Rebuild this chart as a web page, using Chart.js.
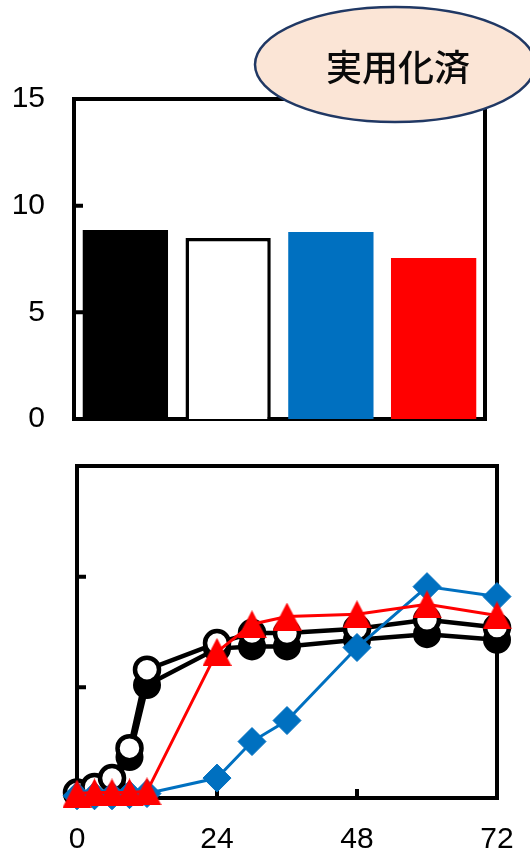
<!DOCTYPE html>
<html><head><meta charset="utf-8">
<script src="https://cdn.jsdelivr.net/npm/chart.js@4"></script>
<style>
html,body{margin:0;padding:0;background:#fff;overflow:hidden;width:530px;height:848px}
#c1{position:absolute;left:0;top:0}
#c2{position:absolute;left:0;top:440px}
</style></head><body>
<canvas id="c1" width="530" height="466"></canvas>
<canvas id="c2" width="538" height="408"></canvas>
<script>
// ---- data ----
const barCategories = ['S1', 'S2', 'S3', 'S4'];
const barValues = [8.86, 8.48, 8.77, 7.55];
const barYTicks = [0, 5, 10, 15];

const timeHours = [0, 3, 6, 9, 12, 24, 30, 36, 48, 60, 72];
const filledCircle = [0.04, 0.05, 0.10, 0.37, 1.02, 1.35, 1.37, 1.37, 1.43, 1.48, 1.43];
const openCircle   = [0.05, 0.10, 0.18, 0.45, 1.16, 1.40, 1.49, 1.49, 1.53, 1.61, 1.54];
const blueDiamond  = [0.02, 0.02, 0.02, 0.03, 0.04, 0.18, 0.51, 0.70, 1.36, 1.91, 1.82];
const redTriangle  = [0.04, 0.05, 0.05, 0.05, 0.06, 1.32, 1.57, 1.64, 1.66, 1.75, 1.65];
const lineXTicks = [0, 24, 48, 72];
const lineYTicks = [0, 1, 2, 3];

const badgeText = '実用化済';

const FONT = "'Liberation Sans', Arial, sans-serif";

// marker image: filled red triangle (a little taller than equilateral)
function triangleMarker(w, h, color) {
  const c = document.createElement('canvas');
  c.width = w; c.height = h;
  const g = c.getContext('2d');
  g.fillStyle = color;
  g.beginPath();
  g.moveTo(w / 2, 0);
  g.lineTo(w, h);
  g.lineTo(0, h);
  g.closePath();
  g.fill();
  return c;
}
const redTriMarker = triangleMarker(29, 28, '#FF0000');

const framePlugin = {
  id: 'frame',
  beforeDatasetsDraw(chart, args, opts) {
    const {ctx, chartArea: a} = chart;
    ctx.save();
    ctx.strokeStyle = '#000';
    ctx.lineWidth = 4;
    ctx.strokeRect(a.left, a.top, a.right - a.left, a.bottom - a.top);
    ctx.beginPath();
    (opts.yTicks || []).forEach(v => {
      const y = chart.scales.y.getPixelForValue(v);
      ctx.moveTo(a.left, y); ctx.lineTo(a.left + 9, y);
    });
    (opts.xTicks || []).forEach(v => {
      const x = chart.scales.x.getPixelForValue(v);
      ctx.moveTo(x, a.bottom); ctx.lineTo(x, a.bottom - 9);
    });
    ctx.stroke();
    ctx.restore();
  }
};

const badgePlugin = {
  id: 'badge',
  afterDraw(chart, args, opts) {
    if (!opts.text) return;
    const ctx = chart.ctx;
    ctx.save();
    ctx.beginPath();
    ctx.ellipse(395, 64.5, 140, 57.5, 0, 0, Math.PI * 2);
    ctx.fillStyle = '#FBE5D6';
    ctx.fill();
    ctx.lineWidth = 2.5;
    ctx.strokeStyle = '#203864';
    ctx.stroke();
    ctx.fillStyle = '#0a0a0a';
    ctx.font = "500 36px 'Noto Sans CJK JP', sans-serif";
    ctx.textAlign = 'center';
    ctx.textBaseline = 'middle';
    ctx.fillText(opts.text, 398, 67);
    ctx.restore();
  }
};

new Chart(document.getElementById('c1'), {
  type: 'bar',
  data: {
    labels: barCategories,
    datasets: [{
      data: barValues,
      backgroundColor: ['#000000', '#FFFFFF', '#0070C0', '#FF0000'],
      borderColor: ['#000000', '#000000', '#0070C0', '#FF0000'],
      borderWidth: [0, 3.5, 0, 0],
      borderSkipped: 'bottom',
      categoryPercentage: 1,
      barPercentage: 0.83
    }]
  },
  options: {
    responsive: false,
    animation: false,
    devicePixelRatio: 1,
    layout: {padding: {left: 0, right: 45, top: 99, bottom: 0}},
    plugins: {
      legend: {display: false},
      tooltip: {enabled: false},
      frame: {yTicks: [5, 10]},
      badge: {text: badgeText}
    },
    scales: {
      x: {
        ticks: {display: false},
        grid: {display: false},
        border: {display: false},
        afterFit: s => { s.height = 0; }
      },
      y: {
        min: 0, max: 15,
        afterBuildTicks: s => { s.ticks = barYTicks.map(v => ({value: v})); },
        ticks: {color: '#000', font: {family: FONT, size: 30}, padding: 29},
        grid: {display: false, drawTicks: false},
        border: {display: false},
        afterFit: s => { s.width = 74; }
      }
    }
  },
  plugins: [framePlugin, badgePlugin]
});

const lineBase = {tension: 0, clip: false};

new Chart(document.getElementById('c2'), {
  type: 'line',
  data: {
    labels: timeHours,
    datasets: [
      Object.assign({
        data: timeHours.map((t, i) => ({x: t, y: redTriangle[i]})),
        borderColor: '#FF0000', backgroundColor: '#FF0000', borderWidth: 3,
        pointStyle: redTriMarker, pointRadius: 14, order: 0
      }, lineBase),
      Object.assign({
        data: timeHours.map((t, i) => ({x: t, y: blueDiamond[i]})),
        borderColor: '#0070C0', backgroundColor: '#0070C0', borderWidth: 3,
        pointStyle: 'rectRot', pointRadius: 14, pointBorderWidth: 1,
        pointBorderColor: '#0070C0', pointBackgroundColor: '#0070C0', order: 1
      }, lineBase),
      Object.assign({
        data: timeHours.map((t, i) => ({x: t, y: openCircle[i]})),
        borderColor: '#000', backgroundColor: '#fff', borderWidth: 4.5,
        pointStyle: 'circle', pointRadius: 12, pointBorderWidth: 4.5,
        pointBorderColor: '#000', pointBackgroundColor: '#fff', order: 2
      }, lineBase),
      Object.assign({
        data: timeHours.map((t, i) => ({x: t, y: filledCircle[i]})),
        borderColor: '#000', backgroundColor: '#000', borderWidth: 4.5,
        pointStyle: 'circle', pointRadius: 12.5, pointBorderWidth: 3,
        pointBorderColor: '#000', pointBackgroundColor: '#000', order: 3
      }, lineBase)
    ]
  },
  options: {
    responsive: false,
    animation: false,
    devicePixelRatio: 1,
    layout: {padding: {left: 0, right: 41, top: 26, bottom: 0}},
    plugins: {
      legend: {display: false},
      tooltip: {enabled: false},
      frame: {yTicks: [1, 2], xTicks: [24, 48]}
    },
    scales: {
      x: {
        type: 'linear', min: 0, max: 72,
        afterBuildTicks: s => { s.ticks = lineXTicks.map(v => ({value: v})); },
        ticks: {color: '#000', font: {family: FONT, size: 30}, padding: 24},
        grid: {display: false, drawTicks: false},
        border: {display: false},
        afterFit: s => { s.height = 50; }
      },
      y: {
        min: 0, max: 3,
        afterBuildTicks: s => { s.ticks = lineYTicks.map(v => ({value: v})); },
        ticks: {display: false},
        grid: {display: false, drawTicks: false},
        border: {display: false},
        afterFit: s => { s.width = 77; }
      }
    }
  },
  plugins: [framePlugin]
});
</script>
</body></html>
